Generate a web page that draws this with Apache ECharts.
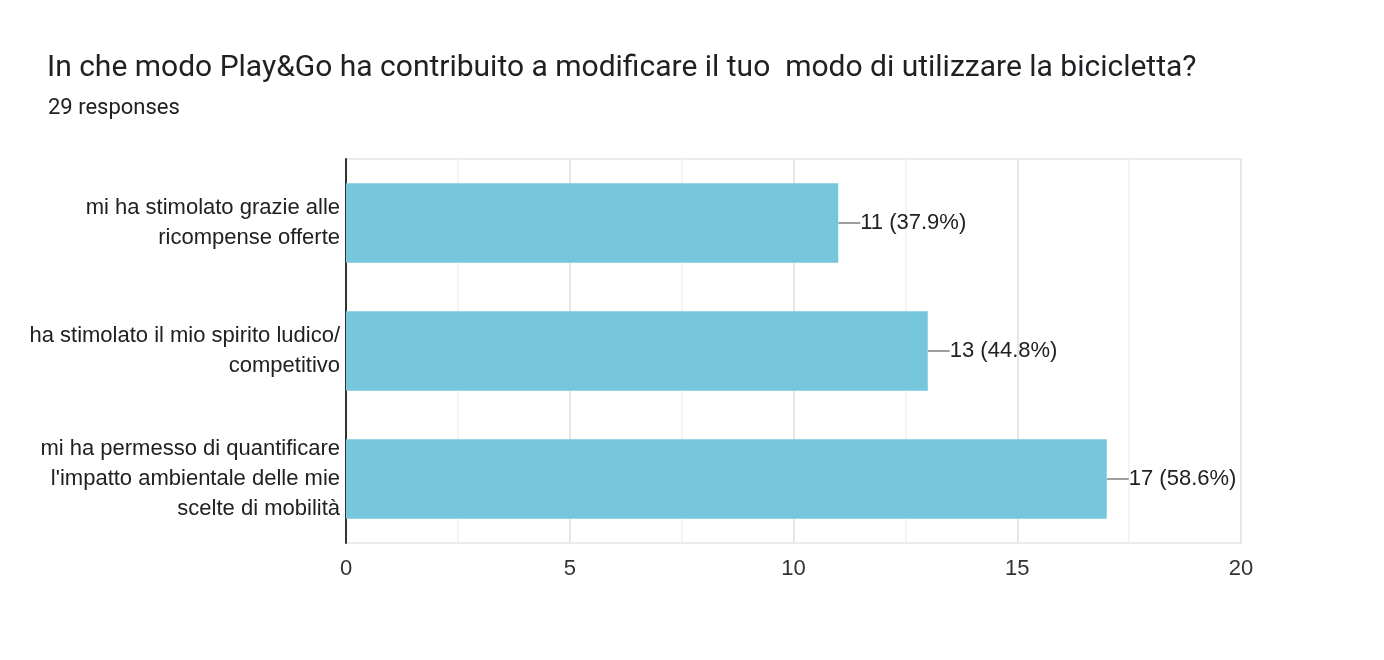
<!DOCTYPE html>
<html>
<head>
<meta charset="utf-8">
<script src="https://cdn.jsdelivr.net/npm/echarts@6/dist/echarts.min.js"></script>
<style>
html,body{margin:0;padding:0;background:#fff;}
#c{width:1384px;height:660px;}
</style>
</head>
<body>
<div id="c"></div>
<script>
const titleText = "In che modo Play&Go ha contribuito a modificare il tuo  modo di utilizzare la bicicletta?";
const subtitleText = "29 responses";
const categories = [
  "mi ha stimolato grazie alle\nricompense offerte",
  "ha stimolato il mio spirito ludico/\ncompetitivo",
  "mi ha permesso di quantificare\nl'impatto ambientale delle mie\nscelte di mobilità"
];
const counts = [11, 13, 17];
const percents = ["37.9%", "44.8%", "58.6%"];
const xTicks = [0, 5, 10, 15, 20];

const chart = echarts.init(document.getElementById('c'), null, {renderer: 'canvas'});
chart.setOption({
  backgroundColor: '#fff',
  animation: false,
  title: [
    {text: titleText, left: 42, top: 48,
     textStyle: {fontFamily: 'Roboto', fontSize: 30, fontWeight: 'normal', color: '#202124'}},
    {text: subtitleText, left: 43, top: 92,
     textStyle: {fontFamily: 'Roboto', fontSize: 22, fontWeight: 'normal', color: '#202124'}}
  ],
  grid: {left: 346, right: 143, top: 159, bottom: 117, containLabel: false,
         show: true, borderColor: '#ebebeb', borderWidth: 2},
  xAxis: {
    type: 'value', min: 0, max: 20, interval: 2.5,
    axisLine: {show: false},
    axisTick: {show: false},
    axisLabel: {
      fontFamily: 'Liberation Sans', fontSize: 22, color: '#333', margin: 15,
      formatter: v => xTicks.includes(v) ? String(v) : ''
    },
    splitLine: {show: true, lineStyle: {color: ['#e6e6e6', '#f3f3f3'], width: 2}}
  },
  yAxis: {
    type: 'category', data: categories, inverse: true,
    axisLine: {show: true, lineStyle: {color: '#333', width: 2}},
    axisTick: {show: false},
    axisLabel: {fontFamily: 'Liberation Sans', fontSize: 22, color: '#212121',
                lineHeight: 30, margin: 6, align: 'right'}
  },
  series: [{
    type: 'bar',
    data: counts,
    barCategoryGap: '38%',
    itemStyle: {color: '#77c7dc'},
    label: {
      show: true, position: 'right', distance: 0,
      fontFamily: 'Liberation Sans', fontSize: 22, color: '#212121',
      formatter: p => p.value + ' (' + percents[p.dataIndex] + ')'
    },
    labelLayout: {dx: 22},
    labelLine: {show: true, lineStyle: {color: '#9e9e9e', width: 2}}
  }]
});
</script>
</body>
</html>
